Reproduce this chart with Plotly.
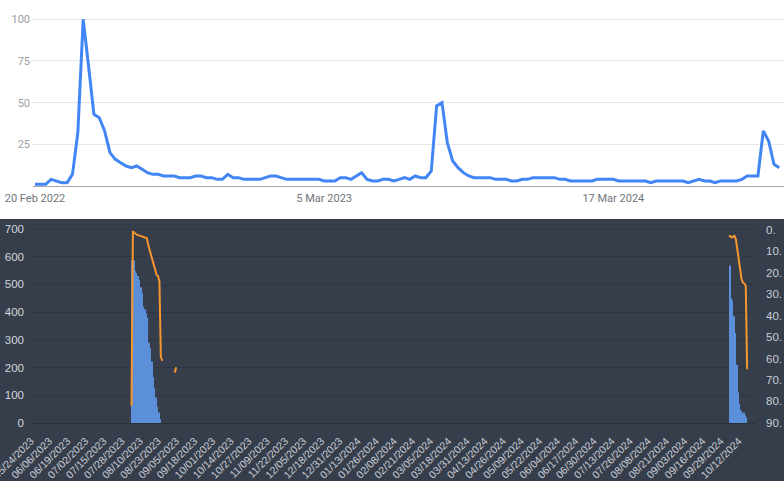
import pandas as pd
import plotly.graph_objects as go

# ---------------- Top panel: weekly search interest ----------------
trend_start = "2022-02-20"
trend_values = [
    1, 1, 1, 4, 3, 2, 2, 7, 32, 100, 72, 43, 41, 33, 20, 16, 14, 12, 11, 12,
    10, 8, 7, 7, 6, 6, 6, 5, 5, 5, 6, 6, 5, 5, 4, 4, 7, 5, 5, 4,
    4, 4, 4, 5, 6, 6, 5, 4, 4, 4, 4, 4, 4, 4, 3, 3, 3, 5, 5, 4,
    6, 8, 4, 3, 3, 4, 4, 3, 4, 5, 4, 6, 5, 5, 9, 48, 50, 26, 15, 11,
    8, 6, 5, 5, 5, 5, 4, 4, 4, 3, 3, 4, 4, 5, 5, 5, 5, 5, 4, 4,
    3, 3, 3, 3, 3, 4, 4, 4, 4, 3, 3, 3, 3, 3, 3, 2, 3, 3, 3, 3,
    3, 3, 2, 3, 4, 3, 3, 2, 3, 3, 3, 3, 4, 6, 6, 6, 33, 27, 13, 11,
]
trend_tick_dates = ["2022-02-20", "2023-03-05", "2024-03-17"]
trend_tick_text = ["20 Feb 2022", "5 Mar 2023", "17 Mar 2024"]
trend_y_ticks = [25, 50, 75, 100]

# ---------------- Bottom panel: daily bars + rank line ----------------
bars1_start = "2023-08-04"
bars1_values = [588, 586, 548, 540, 530, 516, 490, 468, 420, 410, 395, 380,
                290, 270, 222, 165, 125, 92, 58, 38, 14]
bars2_start = "2024-10-05"
bars2_values = [568, 450, 442, 385, 325, 210, 110, 70, 45, 35, 38, 28, 20]

rank1_start = "2023-08-04"
rank1_values = [82, 0.5, 1.3, 2, 2.3, 2.5, 2.6, 2.8, 3.1, 3.4, 3.6, 3.9, 7, 9.5,
                12, 14.5, 17, 19.5, 21, 21.5, 24, 59, 61,
                None, None, None, None, None, None, None, None, 66.5, 64]
rank2_start = "2024-10-05"
rank2_values = [2.5, 3, 3.5, 3, 2.8, 4.6, 9, 13.5, 16.5, 23, 24.5, 25, 26, 65]

bottom_tick_start = "2023-05-24"
bottom_tick_count = 40
left_ticks = [0, 100, 200, 300, 400, 500, 600, 700]
right_ticks = [0, 10, 20, 30, 40, 50, 60, 70, 80, 90]
right_tick_text = ["0.", "10.", "20.", "30.", "40.", "50.", "60.", "70.", "80.", "90."]

# ---------------- derived x values ----------------
trend_dates = pd.date_range(trend_start, periods=len(trend_values), freq="7D")
bar_dates = list(pd.date_range(bars1_start, periods=len(bars1_values), freq="D")) + \
            list(pd.date_range(bars2_start, periods=len(bars2_values), freq="D"))
bar_vals = bars1_values + bars2_values
rank_dates = list(pd.date_range(rank1_start, periods=len(rank1_values), freq="D")) + [None] + \
             list(pd.date_range(rank2_start, periods=len(rank2_values), freq="D"))
rank_vals = rank1_values + [None] + rank2_values
bottom_ticks = pd.date_range(bottom_tick_start, periods=bottom_tick_count, freq="13D")

W, H = 784, 481
MS_DAY = 86400000

# top axis geometry
t0 = pd.Timestamp(trend_start)
px_week = 5.355
top_x_left, top_x_right = 33, 784
top_range = [t0 + pd.Timedelta(days=7 * (top_x_left - 35) / px_week),
             t0 + pd.Timedelta(days=7 * (top_x_right - 35) / px_week)]
px_unit = 1.667
top_y_bottom_px, top_y_top_px = 190, 8
top_y_range = [(186 - top_y_bottom_px) / px_unit, (186 - top_y_top_px) / px_unit]

# bottom axis geometry
b0 = pd.Timestamp(bottom_tick_start)
px_day = 1.396
bx_left, bx_right = 30, 755
bot_range = [b0 + pd.Timedelta(days=(bx_left - 31) / px_day),
             b0 + pd.Timedelta(days=(bx_right - 31) / px_day)]
by_top, by_bottom = 222, 423
left_px_unit = (423 - 229) / 700
right_px_unit = (423 - 230) / 90

BOTTOM_FONT = "Liberation Sans, Arial, sans-serif"

fig = go.Figure()
fig.add_trace(go.Scatter(x=trend_dates, y=trend_values, mode="lines",
                         line=dict(color="#4285F4", width=3), xaxis="x", yaxis="y",
                         hoverinfo="skip"))
fig.add_trace(go.Bar(x=bar_dates, y=bar_vals, marker=dict(color="#5B8FDA", line=dict(width=0)),
                     width=0.82 * MS_DAY, offset=0.09 * MS_DAY,
                     xaxis="x2", yaxis="y2"))
fig.add_trace(go.Scatter(x=rank_dates, y=rank_vals, mode="lines", connectgaps=False,
                         line=dict(color="#F7962F", width=2), xaxis="x2", yaxis="y3"))

fig.update_layout(
    width=W, height=H, margin=dict(l=0, r=0, t=0, b=0, autoexpand=False),
    paper_bgcolor="white", plot_bgcolor="rgba(0,0,0,0)", showlegend=False,
    shapes=[dict(type="rect", xref="paper", yref="paper", x0=0, x1=1,
                 y0=0, y1=(H - 219) / H, fillcolor="#363E4C", line=dict(width=0),
                 layer="below")],
    xaxis=dict(domain=[top_x_left / W, top_x_right / W], range=top_range, type="date",
               tickvals=list(pd.to_datetime(trend_tick_dates)), ticktext=trend_tick_text,
               showgrid=False, zeroline=False, showline=False, ticks="", automargin=False,
               ticklabeloverflow="allow",
               tickfont=dict(family="Roboto", size=11, color="#70757A"), anchor="y"),
    yaxis=dict(domain=[(H - top_y_bottom_px) / H, (H - top_y_top_px) / H], range=top_y_range,
               tickvals=trend_y_ticks, showgrid=True, gridcolor="#E6E6E6", gridwidth=1,
               zeroline=True, zerolinecolor="#A6A6A6", zerolinewidth=1, showline=False,
               ticks="", ticklabelstandoff=2, automargin=False,
               tickfont=dict(family="Roboto", size=11, color="#9AA0A6"), anchor="x"),
    xaxis2=dict(domain=[bx_left / W, bx_right / W], range=bot_range, type="date",
                tickvals=list(bottom_ticks), tickformat="%m/%d/%Y", tickangle=-45,
                showgrid=False, zeroline=False, showline=False, ticks="", automargin=False,
                ticklabeloverflow="allow", ticklabelstandoff=9,
                tickfont=dict(family=BOTTOM_FONT, size=10.5, color="#C9CDD4"), anchor="y2"),
    yaxis2=dict(domain=[(H - by_bottom) / H, (H - by_top) / H],
                range=[0, (by_bottom - by_top) / left_px_unit],
                tickvals=left_ticks, showgrid=True, gridcolor="#2F3643", gridwidth=1,
                zeroline=True, zerolinecolor="#2A303B", zerolinewidth=1, ticks="",
                ticklabelstandoff=5, automargin=False,
                tickfont=dict(family=BOTTOM_FONT, size=11.5, color="#D3D6DB"), anchor="x2"),
    yaxis3=dict(overlaying="y2", side="right", anchor="x2", automargin=False,
                range=[(by_bottom - 230) / right_px_unit + 0.05, (by_top - 230) / right_px_unit],
                tickvals=right_ticks, ticktext=right_tick_text, showgrid=False,
                zeroline=False, ticks="", ticklabelstandoff=10, ticklabeloverflow="allow",
                tickfont=dict(family=BOTTOM_FONT, size=11.5, color="#C9CDD4")),
)

fig.write_html("out.html")
